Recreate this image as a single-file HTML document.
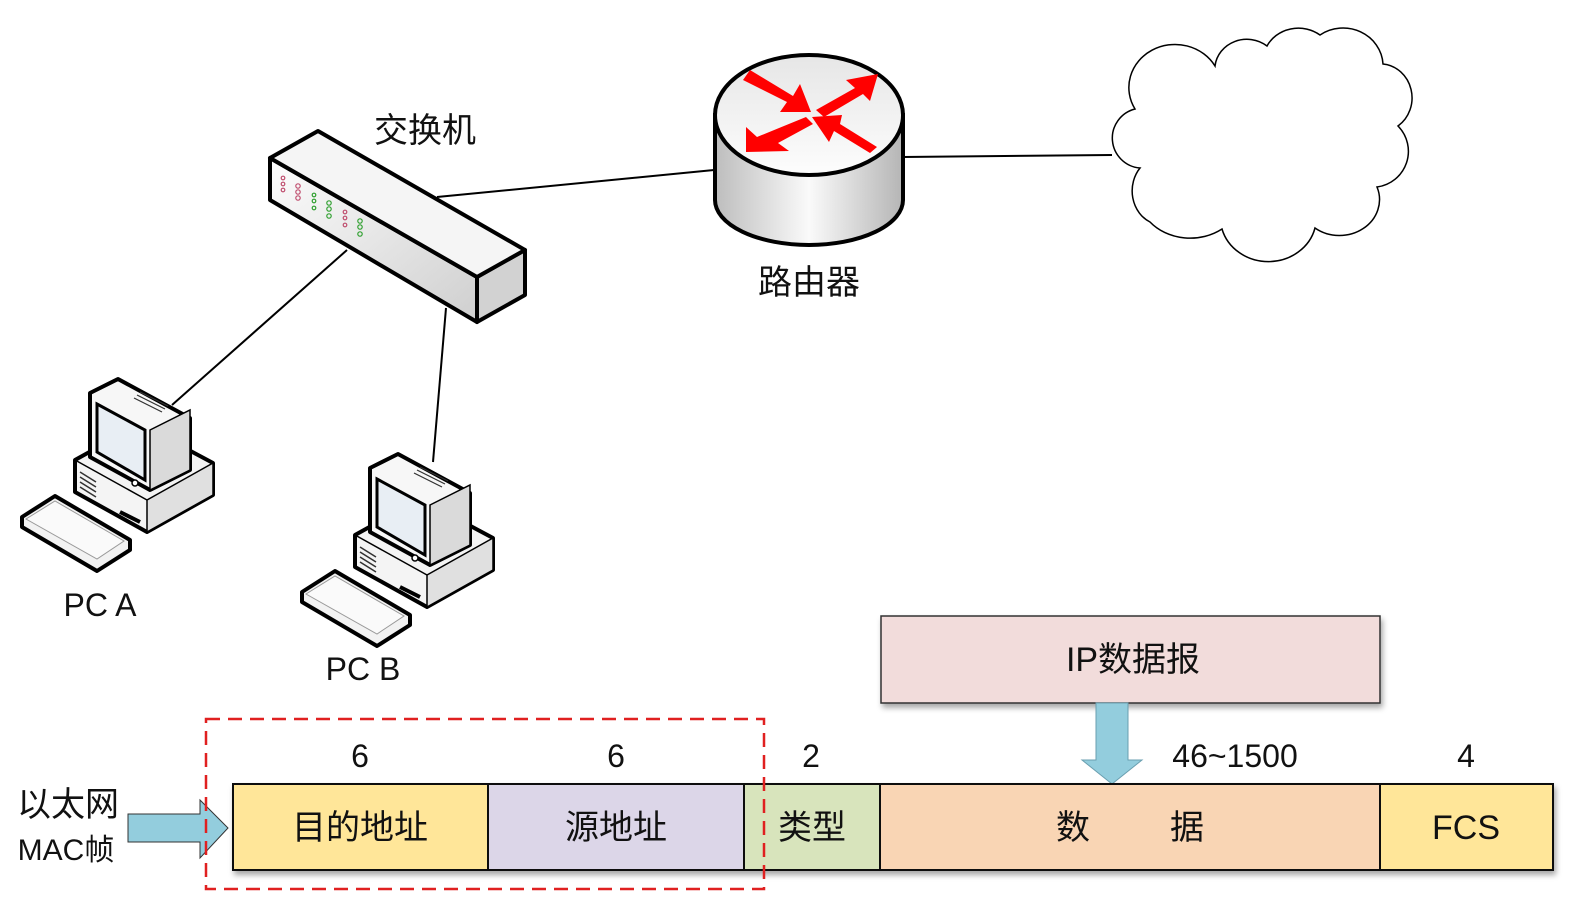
<!DOCTYPE html>
<html><head><meta charset="utf-8"><style>
html,body{margin:0;padding:0;background:#fff;}
svg{display:block;}
text{font-family:"Liberation Sans","Noto Sans CJK SC",sans-serif;fill:#111;}
</style></head><body>
<svg width="1574" height="902" viewBox="0 0 1574 902" xmlns="http://www.w3.org/2000/svg">
<defs>
<linearGradient id="cyl" x1="0" x2="1" y1="0" y2="0">
<stop offset="0" stop-color="#bdbdbd"/><stop offset="0.5" stop-color="#fafafa"/><stop offset="1" stop-color="#b5b5b5"/>
</linearGradient>
<linearGradient id="top" x1="0" x2="0" y1="0" y2="1">
<stop offset="0" stop-color="#e6e6e6"/><stop offset="1" stop-color="#fdfdfd"/>
</linearGradient>
<linearGradient id="side" x1="0" x2="1" y1="0" y2="1">
<stop offset="0" stop-color="#fdfdfd"/><stop offset="1" stop-color="#cfcfcf"/>
</linearGradient>
<filter id="sh" x="-5%" y="-5%" width="110%" height="130%"><feDropShadow dx="2" dy="4" stdDeviation="3" flood-color="#000" flood-opacity="0.35"/></filter>
<g id="pc">
 <polygon points="22,517 55,496 130,540 130,550 97,571 22,527" fill="#f2f2f2" stroke="#000" stroke-width="4" stroke-linejoin="round"/>
 <polygon points="26,519 55,501 124,541 97,559" fill="#fafafa" stroke="#999" stroke-width="1"/>
 <polygon points="75,460 140,424 213,463 213,495 147,532 75,492" fill="#f4f4f4" stroke="#000" stroke-width="4" stroke-linejoin="round"/>
 <polygon points="147,500 213,463 213,495 147,532" fill="#e0e0e0" stroke="#000" stroke-width="1.5"/>
 <line x1="75" y1="460" x2="147" y2="500" stroke="#000" stroke-width="1.5"/>
 <g stroke="#333" stroke-width="1.5"><line x1="80" y1="472" x2="96" y2="482"/><line x1="80" y1="477" x2="96" y2="487"/><line x1="80" y1="482" x2="96" y2="492"/><line x1="80" y1="487" x2="96" y2="497"/></g>
 <line x1="120" y1="512" x2="140" y2="522" stroke="#000" stroke-width="4"/>
 <polygon points="90,393 118,379 190,418 190,470 150,490 90,457" fill="#f7f7f7" stroke="#000" stroke-width="4" stroke-linejoin="round"/>
 <polygon points="150,430 190,410 190,470 150,490" fill="#dadada" stroke="#000" stroke-width="1.5"/>
 <polygon points="97,404 145,430 145,480 97,452" fill="#e8eef4" stroke="#000" stroke-width="3"/>
 <g stroke="#333" stroke-width="1.2"><line x1="140" y1="392" x2="168" y2="406"/><line x1="137" y1="395" x2="165" y2="409"/><line x1="134" y1="398" x2="162" y2="412"/></g>
 <circle cx="135" cy="483" r="3" fill="#fff" stroke="#000" stroke-width="1.5"/>
</g>
</defs>

<g stroke="#000" stroke-width="2" fill="none">
<line x1="437" y1="197" x2="714" y2="170"/>
<line x1="347" y1="250" x2="172" y2="405"/>
<line x1="446" y1="308" x2="433" y2="462"/>
<line x1="903" y1="157" x2="1112" y2="155"/>
</g>

<polygon points="270,158 270,200 477,322 477,277" fill="url(#side)" stroke="#000" stroke-width="4" stroke-linejoin="round"/>
<polygon points="477,277 525,250 525,295 477,322" fill="#d2d2d2" stroke="#000" stroke-width="4" stroke-linejoin="round"/>
<polygon points="270,158 318,131 525,250 477,277" fill="#f5f5f5" stroke="#000" stroke-width="4" stroke-linejoin="round"/>
<g fill="none" stroke-width="1.2">
<g stroke="#c05070"><circle cx="283" cy="178" r="1.8"/><circle cx="283" cy="184" r="1.8"/><circle cx="283" cy="190" r="1.8"/>
<circle cx="298" cy="186" r="2.2"/><circle cx="298" cy="192" r="2.2"/><circle cx="298" cy="198" r="2.2"/>
<circle cx="345" cy="212" r="1.8"/><circle cx="345" cy="218" r="1.8"/><circle cx="345" cy="225" r="1.8"/></g>
<g stroke="#30a030"><circle cx="314" cy="195" r="1.8"/><circle cx="314" cy="201" r="1.8"/><circle cx="314" cy="208" r="1.8"/>
<circle cx="329" cy="203" r="2.2"/><circle cx="329" cy="209" r="2.2"/><circle cx="329" cy="216" r="2.2"/>
<circle cx="360" cy="221" r="2.2"/><circle cx="360" cy="227" r="2.2"/><circle cx="360" cy="234" r="2.2"/></g>
</g>
<text x="425" y="142" font-size="34" text-anchor="middle">交换机</text>

<path d="M715,115 L715,200 A94,45 0 0 0 903,200 L903,115 Z" fill="url(#cyl)" stroke="#000" stroke-width="4"/>
<ellipse cx="809" cy="115" rx="94" ry="60" fill="url(#top)" stroke="#000" stroke-width="4"/>
<g fill="#f00">
<polygon points="743,80 750,70 793,96 800,84 811,112 780,112 787,102"/>
<polygon points="816,110 855,88 846,80 878,74 870,101 863,94 824,117"/>
<polygon points="877,147 870,153 834,131 829,142 812,117 842,115 840,124"/>
<polygon points="806,117 813,124 778,143 789,151 746,152 746,127 757,137"/>
</g>
<text x="809" y="294" font-size="34" text-anchor="middle">路由器</text>

<path d="M1135,109 A45,42 0 0 1 1215,66 A32,30 0 0 1 1267,46 A35,32 0 0 1 1320,35 A40,38 0 0 1 1383,64 A32,34 0 0 1 1398,126 A36,36 0 0 1 1377,187 A40,36 0 0 1 1315,228 A48,44 0 0 1 1222,229 A52,44 0 0 1 1150,222 A30,34 0 0 1 1140,168 A30,30 0 0 1 1135,109 Z" fill="#fff" stroke="#000" stroke-width="1.5"/>

<use href="#pc"/>
<use href="#pc" transform="translate(280,75)"/>
<text x="100" y="616" font-size="32" text-anchor="middle">PC A</text>
<text x="363" y="680" font-size="32" text-anchor="middle">PC B</text>

<rect x="881" y="616" width="499" height="87" fill="#f2dcdb" stroke="#333" stroke-width="1.5" filter="url(#sh)"/>
<text x="1133" y="671" font-size="34" text-anchor="middle">IP数据报</text>
<polygon points="1096,703 1128,703 1128,760 1142,760 1112,784 1082,760 1096,760" fill="#93cddd" stroke="#6a9fb0" stroke-width="1"/>

<g font-size="32" text-anchor="middle">
<text x="360" y="767">6</text><text x="616" y="767">6</text><text x="811" y="767">2</text>
<text x="1235" y="767">46~1500</text><text x="1466" y="767">4</text>
</g>

<g stroke="#111" stroke-width="2" filter="url(#sh)">
<rect x="233" y="784" width="255" height="86" fill="#ffe699"/>
<rect x="488" y="784" width="256" height="86" fill="#dcd6e8"/>
<rect x="744" y="784" width="136" height="86" fill="#d8e4bc"/>
<rect x="880" y="784" width="500" height="86" fill="#f9d5b4"/>
<rect x="1380" y="784" width="173" height="86" fill="#ffe699"/>
</g>
<g font-size="34" text-anchor="middle">
<text x="360" y="839">目的地址</text><text x="616" y="839">源地址</text><text x="812" y="839">类型</text>
<text x="1073" y="839">数</text><text x="1187" y="839">据</text><text x="1466" y="839">FCS</text>
</g>

<polygon points="128,814 200,814 200,800 228,828 200,858 200,842 128,842" fill="#93cddd" stroke="#333" stroke-width="1"/>
<text x="68" y="816" font-size="34" text-anchor="middle">以太网</text>
<text x="66" y="860" font-size="30" text-anchor="middle">MAC帧</text>

<rect x="206" y="719" width="558" height="170" fill="none" stroke="#e02020" stroke-width="2.5" stroke-dasharray="14,8"/>
</svg>
</body></html>
